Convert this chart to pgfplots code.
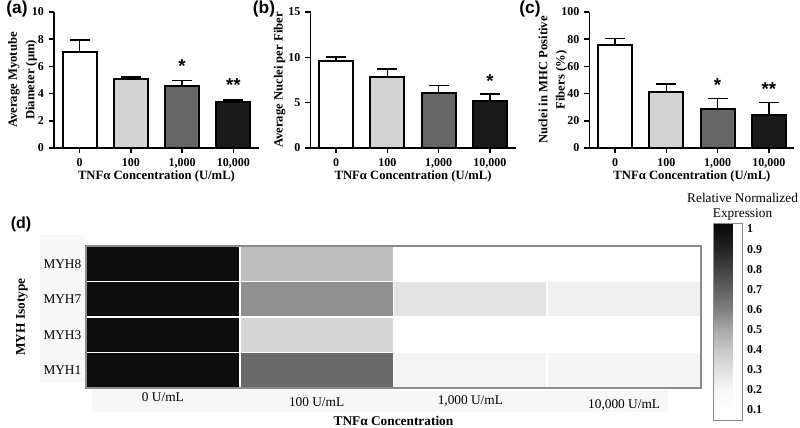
\documentclass[border=0pt]{standalone}
\usepackage{pgfplots}
\pgfplotsset{compat=1.18}
\usepackage{fontspec}
\setmainfont{Liberation Serif}
\newfontfamily\arial{Liberation Sans}

\pgfplotsset{
  barpanel/.style={
    scale only axis, width=153.75pt, height=102pt,
    anchor=south west,
    xmin=-0.5, xmax=3.5, ymin=0,
    axis lines*=left, axis line style={line width=1.3pt, black},
    xtick={0,1,2,3}, xticklabels={0,100,{1,000},{10,000}},
    tick style={line width=1.1pt, black}, tick align=outside, major tick length=4pt,
    tick label style={font=\bfseries\fontsize{9}{10}\selectfont},
    /pgf/number format/assume math mode=true,
    label style={font=\bfseries\fontsize{9.5}{13}\selectfont},
    xlabel={TNFα Concentration (U/mL)},
    xlabel style={yshift=4.5pt},
    ylabel style={align=center},
    ybar, bar width=0.66,
    clip=false,
  },
  barplot/.style={draw=black, line width=1.5pt, bar shift=0pt, fill=#1,
    error bars/.cd, y dir=plus, y explicit,
    error mark=|,
    error bar style={line width=1.2pt, black},
    error mark options={line width=1.2pt, mark size=7.5pt, black}},
}
\tikzset{sigstar/.style={font=\arial\bfseries\fontsize{14}{14}\selectfont, inner sep=0pt}}
\definecolor{barA}{HTML}{FFFFFF}
\definecolor{barB}{HTML}{D3D3D3}
\definecolor{barC}{HTML}{666666}
\definecolor{barD}{HTML}{1A1A1A}

\begin{document}
\begin{tikzpicture}
\path[use as bounding box] (0,0) rectangle (600pt,321pt);

% panel labels
\node[font=\arial\bfseries\fontsize{13}{13}\selectfont] at (12.75pt,314.5pt) {(a)};
\node[font=\arial\bfseries\fontsize{13}{13}\selectfont] at (198pt,314.5pt) {(b)};
\node[font=\arial\bfseries\fontsize{13}{13}\selectfont] at (397.5pt,314.5pt) {(c)};
\node[font=\arial\bfseries\fontsize{12}{12}\selectfont] at (15.75pt,153pt) {(d)};

% (a)
\begin{axis}[barpanel, at={(40.5pt,210pt)}, ymax=10, ytick={0,2,4,6,8,10},
  ylabel={Average Myotube\\Diameter (μm)},
  ylabel style={at={(axis description cs:-0.06,0.5)}, anchor=south}]
\addplot[barplot=barA] coordinates {(0,7.05) +- (0,0.9)};
\addplot[barplot=barB] coordinates {(1,5.05) +- (0,0.17)};
\addplot[barplot=barC] coordinates {(2,4.55) +- (0,0.4)};
\addplot[barplot=barD] coordinates {(3,3.4) +- (0,0.15)};
\node[sigstar] at (axis cs:2,6.05) {*};
\node[sigstar] at (axis cs:3,4.6) {**};
\end{axis}

% (b)
\begin{axis}[barpanel, at={(232.9pt,210pt)}, ymax=15, ytick={0,5,10,15},
  ylabel={Average Nuclei per Fiber},
  ylabel style={at={(axis description cs:-0.1,0.5)}, anchor=south}]
\addplot[barplot=barA] coordinates {(0,9.65) +- (0,0.4)};
\addplot[barplot=barB] coordinates {(1,7.8) +- (0,0.9)};
\addplot[barplot=barC] coordinates {(2,6.1) +- (0,0.8)};
\addplot[barplot=barD] coordinates {(3,5.2) +- (0,0.75)};
\node[sigstar] at (axis cs:3,7.4) {*};
\end{axis}

% (c)
\begin{axis}[barpanel, at={(442.1pt,210pt)}, ymax=100, ytick={0,20,40,60,80,100},
  ylabel={Nuclei in MHC Positive\\Fibers (\%)},
  ylabel style={at={(axis description cs:-0.085,0.5)}, anchor=south}]
\addplot[barplot=barA] coordinates {(0,75.5) +- (0,5)};
\addplot[barplot=barB] coordinates {(1,41.5) +- (0,5.5)};
\addplot[barplot=barC] coordinates {(2,29) +- (0,7.5)};
\addplot[barplot=barD] coordinates {(3,24.5) +- (0,9)};
\node[sigstar] at (axis cs:2,46.5) {*};
\node[sigstar] at (axis cs:3,43.5) {**};
\end{axis}

% (d)
\begin{axis}[at={(64.5pt,30pt)}, anchor=south west, scale only axis,
  width=461.25pt, height=106.5pt,
  xmin=-0.5, xmax=3.5, ymin=-0.5, ymax=3.5,
  clip=false,
  xtick={0,1,2,3},
  xticklabels={0 U/mL,{\rule{0pt}{10.2pt}100 U/mL},{\rule{0pt}{8.7pt}1,000 U/mL},{\rule{0pt}{11.7pt}10,000 U/mL}},
  ytick={0,1,2,3}, yticklabels={MYH8,MYH7,MYH3,MYH1},
  major tick length=0pt,
  minor xtick={0.5,1.5,2.5}, minor ytick={0.5,1.5,2.5}, minor tick length=0pt,
  grid=minor, minor grid style={white, line width=1.2pt},
  axis on top,
  axis line style={draw=black!45, line width=0.8pt},
  tick label style={font=\fontsize{10}{12}\selectfont},
  xlabel={TNFα Concentration},
  xlabel style={yshift=2.5pt},
  label style={font=\bfseries\fontsize{10}{12}\selectfont},
  colormap={hm}{gray(5cm)=(1); gray(10cm)=(1); gray(20cm)=(0.97); gray(30cm)=(0.88); gray(40cm)=(0.78); gray(50cm)=(0.66); gray(60cm)=(0.5); gray(70cm)=(0.38); gray(80cm)=(0.26); gray(90cm)=(0.14); gray(100cm)=(0.05); gray(103cm)=(0.04)},
  point meta min=0.05, point meta max=1.03,
  colorbar,
  colorbar style={
    at={(parent axis.north east)}, anchor=north west, xshift=0.75pt, yshift=17.25pt,
    scale only axis, width=21.75pt, height=147.75pt,
    ytick={0.1,0.2,0.3,0.4,0.5,0.6,0.7,0.8,0.9,1},
    yticklabels={0.1,0.2,0.3,0.4,0.5,0.6,0.7,0.8,0.9,1},
    major tick length=0pt,
    yticklabel style={font=\bfseries\fontsize{9}{10}\selectfont},
    axis line style={draw=black!45},
    title={Relative Normalized\\Expression},
    title style={align=center, font=\fontsize{10}{11}\selectfont, xshift=11pt, yshift=-7.5pt},
  },
]
\fill[black!3] (axis description cs:-0.0748,0.042) rectangle (axis description cs:-0.002,1.077);
\fill[black!3] (axis description cs:0.01,-0.014) rectangle (axis description cs:0.946,-0.169);
\addplot[matrix plot, mesh/cols=4, point meta=explicit] table[meta=c] {
x y c
0 0 1.0
1 0 0.43
2 0 0.1
3 0 0.1
0 1 1.0
1 1 0.56
2 1 0.29
3 1 0.23
0 2 1.0
1 2 0.34
2 2 0.1
3 2 0.1
0 3 1.0
1 3 0.67
2 3 0.22
3 3 0.21
};
\node[rotate=90, font=\bfseries\fontsize{10}{12}\selectfont] at (axis description cs:-0.104,0.5) {MYH Isotype};
\end{axis}
\end{tikzpicture}
\end{document}
